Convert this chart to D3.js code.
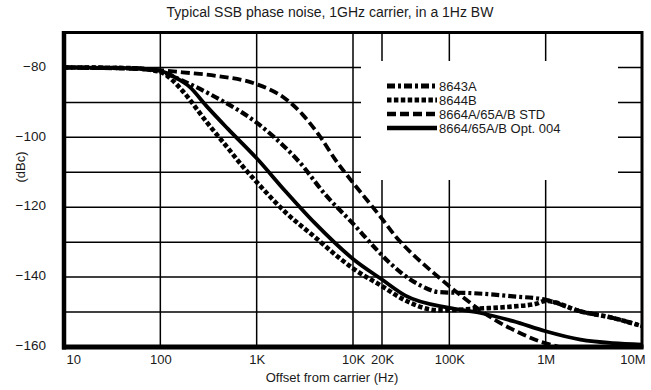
<!DOCTYPE html>
<html>
<head>
<meta charset="utf-8">
<script src="https://cdn.jsdelivr.net/npm/d3@7"></script>
<style>
  html, body { margin: 0; padding: 0; background: #fff; }
  svg { display: block; }
  text { fill: #1a1a1a; }
</style>
</head>
<body>
<svg id="chart" width="651" height="390"></svg>
<script>
// ---- data ----
const chartTitle = "Typical SSB phase noise, 1GHz carrier, in a 1Hz BW";
const xAxisTitle = "Offset from carrier (Hz)";
const yAxisTitle = "(dBc)";

const xTickValues = [10, 100, 1000, 10000, 20000, 100000, 1000000, 10000000];
const xTickLabels = ["10", "100", "1K", "10K", "20K", "100K", "1M", "10M"];
const xGridValues = [100, 1000, 10000, 20000, 100000, 1000000];
const yTickValues = [-80, -100, -120, -140, -160];
const yGridValues = [-80, -90, -100, -110, -120, -130, -140, -150];

const seriesNames = ["8643A", "8644B", "8664A/65A/B STD", "8664/65A/B Opt. 004"];

const freq8643A = [10, 50, 100, 170, 380, 1000, 1600, 2800, 5200, 10000, 17400, 24000, 35000, 52000, 78000, 175000, 460000, 1000000, 2300000, 5000000, 10000000];
const dbc8643A  = [-80, -80.2, -81.2, -83.8, -88.6, -95.8, -100.5, -107.2, -116.5, -124.7, -132, -135.9, -139.7, -142.6, -144.3, -144.6, -145.5, -146.5, -149.8, -151.7, -154];

const freq8644B = [10, 50, 100, 130, 170, 300, 500, 700, 1000, 2000, 4000, 7200, 10000, 20000, 35000, 78000, 205000, 460000, 800000, 1000000, 2300000, 5000000, 10000000];
const dbc8644B  = [-80, -80.2, -81.3, -83.4, -86.7, -95.5, -103, -108, -112.8, -121.5, -128.5, -134.5, -137.5, -142.6, -146.7, -149.5, -149, -148.4, -147.6, -146.8, -149.8, -151.7, -154];

const freqSTD = [10, 100, 170, 380, 1000, 2000, 3000, 4500, 6600, 10000, 15000, 20000, 28000, 40000, 52000, 70000, 100000, 150000, 205000, 300000, 540000, 870000, 1400000];
const dbcSTD  = [-80, -80.8, -81.4, -82.4, -84.8, -89, -93.5, -99.6, -106.5, -113, -119, -123.3, -128.5, -133, -135.9, -139, -142.6, -146.5, -149.3, -152.3, -156, -158.4, -160];

const freqOpt004 = [10, 50, 100, 150, 200, 300, 500, 1000, 2000, 4000, 10000, 20000, 35000, 100000, 205000, 460000, 1000000, 2300000, 5000000, 10000000];
const dbcOpt004  = [-80, -80.2, -81, -83.2, -85.5, -91, -97.5, -106, -115.5, -124.5, -134.8, -140.7, -145.3, -148.8, -150.2, -152.6, -155.5, -157.9, -158.9, -159.3];

// ---- layout ----
const svg = d3.select("#chart");
const plot = { left: 64, right: 642, top: 32.5, bottom: 347 };
const narrowFont = "'Liberation Sans Narrow', 'Liberation Sans', Arial, sans-serif";

const x = d3.scaleLog().domain([10, 10000000]).range([plot.left, plot.right]);
const y = d3.scaleLinear().domain([-160, -70]).range([plot.bottom, plot.top]);

const styles = [
  { dash: "8,3,3,3", width: 4.2 },
  { dash: "4.5,2.4", width: 4.6 },
  { dash: "9,4", width: 3.8 },
  { dash: null, width: 3.8 }
];
const series = [
  { name: seriesNames[0], f: freq8643A, v: dbc8643A },
  { name: seriesNames[1], f: freq8644B, v: dbc8644B },
  { name: seriesNames[2], f: freqSTD, v: dbcSTD },
  { name: seriesNames[3], f: freqOpt004, v: dbcOpt004 }
];

svg.append("clipPath").attr("id", "clip")
  .append("rect")
  .attr("x", plot.left).attr("y", plot.top)
  .attr("width", plot.right - plot.left).attr("height", plot.bottom - plot.top);

// gridlines
const grid = svg.append("g").attr("stroke", "#000").attr("stroke-width", 1.5);
grid.selectAll("line.h").data(yGridValues).enter().append("line")
  .attr("x1", plot.left).attr("x2", plot.right)
  .attr("y1", d => y(d)).attr("y2", d => y(d));
grid.selectAll("line.v").data(xGridValues).enter().append("line")
  .attr("x1", d => x(d)).attr("x2", d => x(d))
  .attr("y1", plot.top).attr("y2", plot.bottom);

// legend background (covers gridlines)
svg.append("rect").attr("x", 361).attr("y", 61).attr("width", 257).attr("height", 119).attr("fill", "#fff");

// curves
const line = d3.line().x(d => x(d[0])).y(d => y(d[1])).curve(d3.curveMonotoneX);
const curves = svg.append("g").attr("clip-path", "url(#clip)");
series.forEach((s, i) => {
  const pts = s.f.map((f, k) => [f, s.v[k]]);
  curves.append("path")
    .datum(pts)
    .attr("d", line)
    .attr("fill", "none")
    .attr("stroke", "#000")
    .attr("stroke-width", styles[i].width)
    .attr("stroke-dasharray", styles[i].dash)
    .attr("stroke-linejoin", "round");
});

// frame
svg.append("rect")
  .attr("x", plot.left).attr("y", plot.top)
  .attr("width", plot.right - plot.left).attr("height", plot.bottom - plot.top)
  .attr("fill", "none").attr("stroke", "#000").attr("stroke-width", 3);
svg.append("line").attr("x1", plot.left).attr("x2", plot.left)
  .attr("y1", plot.top - 1.5).attr("y2", plot.bottom + 2.5)
  .attr("stroke", "#000").attr("stroke-width", 4.5);
svg.append("line").attr("x1", plot.left - 2).attr("x2", plot.right + 1.5)
  .attr("y1", plot.bottom).attr("y2", plot.bottom)
  .attr("stroke", "#000").attr("stroke-width", 5);

// axes
const xAxis = d3.axisBottom(x).tickValues(xTickValues)
  .tickFormat((d, i) => xTickLabels[i]).tickSize(0).tickPadding(6);
const gx = svg.append("g").attr("transform", `translate(0,${plot.bottom + 2})`).call(xAxis);
gx.select(".domain").remove();
gx.selectAll("text")
  .attr("font-family", narrowFont)
  .attr("font-size", 13).attr("fill", "#1a1a1a");
const xLabels = gx.selectAll("text").nodes();
d3.select(xLabels[0]).attr("text-anchor", "start").attr("x", 2);
d3.select(xLabels[xLabels.length - 1]).attr("text-anchor", "end").attr("x", 3);

const yAxis = d3.axisLeft(y).tickValues(yTickValues).tickFormat(d3.format("d")).tickSize(0).tickPadding(18);
const gy = svg.append("g").attr("transform", `translate(${plot.left},0)`).call(yAxis);
gy.select(".domain").remove();
gy.selectAll("text")
  .attr("font-family", narrowFont)
  .attr("font-size", 13.5).attr("fill", "#1a1a1a").attr("dy", "0.2em");

// titles
svg.append("text").attr("x", 330).attr("y", 17).attr("text-anchor", "middle")
  .attr("font-family", narrowFont)
  .attr("font-size", 14).text(chartTitle);
svg.append("text").attr("x", 332).attr("y", 382).attr("text-anchor", "middle")
  .attr("font-family", narrowFont)
  .attr("font-size", 13).text(xAxisTitle);
svg.append("text").attr("transform", "translate(25,167) rotate(-90)").attr("text-anchor", "middle")
  .attr("font-family", narrowFont)
  .attr("font-size", 13).text(yAxisTitle);

// legend
const legendRows = [86, 100, 114, 128];
const lg = svg.append("g");
series.forEach((s, i) => {
  lg.append("line").attr("x1", 387).attr("x2", 437)
    .attr("y1", legendRows[i]).attr("y2", legendRows[i])
    .attr("stroke", "#000").attr("stroke-width", styles[i].width + 0.6)
    .attr("stroke-dasharray", styles[i].dash);
  lg.append("text").attr("x", 439).attr("y", legendRows[i]).attr("dy", "0.36em")
    .attr("font-family", "'Liberation Sans', Arial, sans-serif")
    .attr("font-size", 13).text(s.name);
});
</script>
</body>
</html>
